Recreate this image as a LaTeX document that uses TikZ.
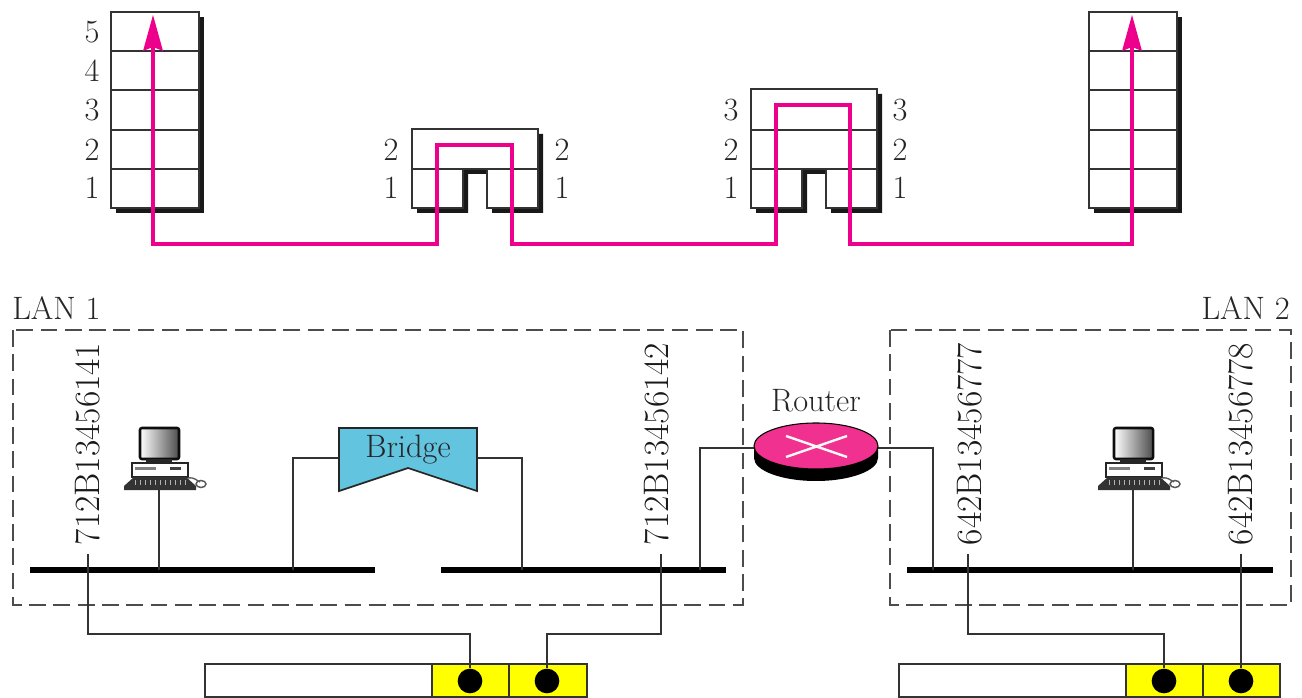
\documentclass[tikz,border=0pt]{standalone}
\usepackage{fontspec}
\usetikzlibrary{arrows.meta}
\definecolor{pinkline}{HTML}{EC008C}
\definecolor{routerpink}{HTML}{F0318F}
\definecolor{bridgeblue}{HTML}{62C4DF}
\definecolor{frameyellow}{HTML}{FFFF00}
\definecolor{linegray}{HTML}{333333}
\tikzset{
  x=0.75pt,y=-0.75pt,
  cell/.style={draw=linegray,line width=1.5pt,fill=white},
  rule/.style={draw=linegray,line width=1.3pt},
  wire/.style={draw=linegray,line width=1.9pt,line join=miter},
  bus/.style={draw=black,line width=5.2pt},
  lanbox/.style={draw=black!70,line width=1.3pt,dash pattern=on 12.6pt off 5.6pt},
  path pink/.style={draw=pinkline,line width=2.8pt,line join=miter},
  lbl/.style={inner sep=0pt,text=black!85,font=\fontsize{24.3}{26}\selectfont},
  addr/.style={inner sep=0pt,text=black!90,rotate=90,font=\fontsize{26.6}{28}\selectfont},
  dot/.style={circle,fill=black,inner sep=0pt,minimum size=18.5pt},
  pics/computer/.style={code={
    \path[rounded corners=1.5pt,draw=black!95,line width=1.9pt,left color=white,right color=black!70] (-19,-62) rectangle (20,-31);
    \fill[black!85] (-13,-31) rectangle (13,-27);
    \path[draw=black!85,fill=white,line width=1.4pt] (-27,-27) rectangle (29,-13);
    \fill[black!50] (-24,-23) rectangle (-3,-20);
    \fill[black!75] (11,-23) rectangle (22,-20);
    \fill[black!80] (-25,-13) -- (27,-13) -- (37,-4) -- (37,0) -- (-35,0) -- (-35,-4) -- cycle;
    \foreach \k in {-24,-19,...,26}{\draw[white!70!black,line width=.5pt] (\k,-10) -- (\k,-5);}
    \draw[black!65,line width=1pt] (29,-12) .. controls (36,-13) and (38,-9) .. (41,-8);
    \draw[black!65,line width=1.1pt] (42,-6) ellipse (5 and 3.5);
  }}
}
\begin{document}
\begin{tikzpicture}
\useasboundingbox (0,0) rectangle (1302,698);
% --- protocol stacks
\newcommand{\tallstack}[1]{%
  \fill[black!90] (#1+5,17) rectangle (#1+93,213);
  \path[cell] (#1,12) rectangle (#1+88,208);
  \foreach \yy in {51,90,130,169}{\draw[rule] (#1,\yy) -- (#1+88,\yy);}
}
\tallstack{111}
\tallstack{1089}
\newcommand{\notchstack}[3]{% left, top, rows
  \fill[black!90] (#1+5,#2+5) -- (#1+131,#2+5) -- (#1+131,213) -- (#1+80,213) -- (#1+80,174) -- (#1+56,174) -- (#1+56,213) -- (#1+5,213) -- cycle;
  \path[cell] (#1,#2) -- (#1+126,#2) -- (#1+126,208) -- (#1+75,208) -- (#1+75,169) -- (#1+51,169) -- (#1+51,208) -- (#1,208) -- cycle;
  \foreach \yy in {#3}{\draw[rule] (#1,\yy) -- (#1+126,\yy);}
}
\notchstack{412}{129}{169}
\notchstack{751}{89}{130,169}
% numbers
\foreach \t/\yy in {5/32,4/71,3/110,2/150,1/188}{\node[lbl] (lA\t) at (92,\yy) {\t};}
\foreach \t/\yy in {2/150,1/188}{
  \node[lbl] (bL\t) at (391,\yy) {\t};
  \node[lbl] (bR\t) at (562,\yy) {\t};}
\foreach \t/\yy in {3/110,2/150,1/188}{
  \node[lbl] (rL\t) at (731,\yy) {\t};
  \node[lbl] (rR\t) at (900,\yy) {\t};}
% data path
\coordinate (p0) at (153,244);
\coordinate (p1) at (437,244);
\coordinate (p2) at (437,145);
\coordinate (p3) at (512,145);
\coordinate (p4) at (512,244);
\coordinate (p5) at (776,244);
\coordinate (p6) at (776,105);
\coordinate (p7) at (850,105);
\coordinate (p8) at (850,244);
\coordinate (p9) at (1132,244);
\coordinate (hostA) at (153,40);
\coordinate (hostB) at (1132,40);
\draw[path pink] (hostA) -- (p0) -- (p1) -- (p2) -- (p3) -- (p4) -- (p5) -- (p6) -- (p7) -- (p8) -- (p9) -- (hostB);
\fill[pinkline] (153,15) -- (163,51) -- (153,47) -- (143,51) -- cycle;
\fill[pinkline] (1132,15) -- (1142,51) -- (1132,47) -- (1122,51) -- cycle;
% LAN boxes
\draw[lanbox] (13,330) rectangle (743,605);
\draw[lanbox] (890,330) rectangle (1291,605);
\node[lbl,anchor=west] (lan1) at (12,308) {LAN 1};
\node[lbl,anchor=east] (lan2) at (1290,308) {LAN 2};
% buses
\draw[bus] (30,570) -- (375,570);
\draw[bus] (441,570) -- (726,570);
\draw[bus] (907,570) -- (1273,570);
% bridge
\draw[wire] (293,570) |- (339,458);
\draw[wire] (522,570) |- (477,458);
\path[draw=black!85,line width=1.3pt,fill=bridgeblue] (339,428) -- (477,428) -- (477,491) -- (408,468) -- (339,491) -- cycle;
\node[lbl] (bridge) at (408,450) {Bridge};
% router
\draw[wire] (700,570) |- (760,448);
\draw[wire] (933,570) |- (872,448);
\fill[black] (754,446) -- (754,458) arc[start angle=180,end angle=0,x radius=62,y radius=23] -- (878,446) -- cycle;
\path[draw=black,line width=.8pt,fill=routerpink] (816,446) ellipse (62 and 23);
\draw[white!90!pink,line width=1.8pt] (786,436) -- (847,457) (786,457) -- (847,436);
\node[lbl] (router) at (816,401) {Router};
% computers
\pic at (159,490) {computer};
\pic at (1133,490) {computer};
\draw[wire] (159,490) -- (159,570);
\draw[wire] (1133,490) -- (1133,570);
% addresses
\node[addr] (a1) at (88,444) {712B13456141};
\node[addr] (a2) at (657,444) {712B13456142};
\node[addr] (a3) at (970,444) {642B13456777};
\node[addr] (a4) at (1241,444) {642B13456778};
% frames
\path[draw=linegray,line width=1.4pt,fill=white] (205,664) rectangle (432,697);
\path[draw=linegray,line width=1.4pt,fill=frameyellow] (432,664) rectangle (509,697);
\path[draw=linegray,line width=1.4pt,fill=frameyellow] (509,664) rectangle (587,697);
\path[draw=linegray,line width=1.4pt,fill=white] (899,664) rectangle (1126,697);
\path[draw=linegray,line width=1.4pt,fill=frameyellow] (1126,664) rectangle (1203,697);
\path[draw=linegray,line width=1.4pt,fill=frameyellow] (1203,664) rectangle (1280,697);
\node[dot] (d1) at (470,681) {};
\node[dot] (d2) at (547,681) {};
\node[dot] (d3) at (1164,681) {};
\node[dot] (d4) at (1241,681) {};
% tap connectors
\coordinate (t1) at (88,554); \coordinate (t2) at (661,554);
\coordinate (t3) at (968,554); \coordinate (t4) at (1241,554);
\draw[wire] (t1) -- (88,634) -| (d1);
\draw[wire] (t2) -- (661,634) -| (d2);
\draw[wire] (t3) -- (968,634) -| (d3);
\draw[wire] (t4) -- (d4);
\end{tikzpicture}
\end{document}
